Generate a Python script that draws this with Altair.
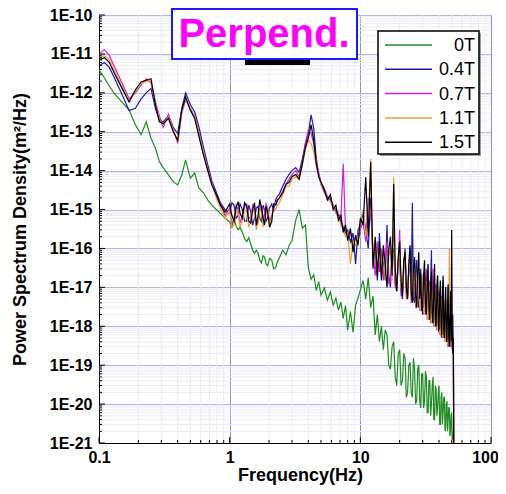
import altair as alt
import pandas as pd

# ---------------- data ----------------
FREQ = [0.1, 0.11, 0.12, 0.13, 0.15, 0.17, 0.19, 0.21, 0.23, 0.25, 0.27, 0.29, 0.31, 0.34, 0.37, 0.40, 0.43, 0.46, 0.50, 0.54, 0.58, 0.63, 0.68, 0.73, 0.79, 0.85, 0.92,
        1.0, 1.04, 1.08, 1.12, 1.16, 1.2, 1.25, 1.3, 1.35, 1.4, 1.45, 1.5, 1.55, 1.6, 1.65, 1.7, 1.75, 1.8, 1.85, 1.9, 1.95, 2.02, 2.1, 2.17, 2.25, 2.32,
        2.4, 2.55, 2.7, 2.85, 3.0, 3.2, 3.4, 3.6, 3.8, 4.0, 4.2, 4.4, 4.6, 4.8, 5.0,
        5.3, 5.6, 5.9, 6.2, 6.5, 6.8, 7.1, 7.4, 7.7, 8.0, 8.4, 8.8, 9.2, 9.6, 10,
        10.5, 11, 11.5, 12, 12.5, 13, 13.5, 14, 14.5, 15, 15.5, 16, 16.5, 17, 17.5, 18, 18.5, 19, 19.5, 20,
        20.5, 21, 21.5, 22, 22.5, 23, 23.5, 24, 24.5, 25, 25.5, 26, 26.5, 27, 27.5, 28, 28.5, 29, 29.5, 30,
        30.5, 31, 31.5, 32, 32.5, 33, 33.5, 34, 34.5, 35, 35.5, 36, 36.5, 37, 37.5, 38, 38.5, 39, 39.5, 40,
        40.5, 41, 41.5, 42, 42.5, 43, 43.5, 44, 44.5, 45, 45.5, 46, 46.5, 47, 47.5, 48, 48.5, 49, 49.5, 50,
        50.5, 51, 51.5, 52]

PSD_0T = [3.9e-12, 2.4e-12, 1.5e-12, 1e-12, 5.8e-13, 3.6e-13, 1.5e-13, 8.4e-14, 1.8e-13, 6.8e-14, 3.8e-14, 1.7e-14, 1.2e-14, 7.8e-15, 5.2e-15, 4.3e-15, 7.7e-15, 1.9e-14, 6.4e-15, 8.7e-15, 3.6e-15, 2.7e-15, 1.75e-15, 1.3e-15, 1e-15, 8e-16, 6e-16,
          4.8e-16, 3.5e-16, 6e-16, 3.8e-16, 3e-16, 3.5e-16, 2.6e-16, 1.8e-16, 1.5e-16, 1.9e-16, 1.3e-16, 9e-17, 7.5e-17, 9e-17, 7.5e-17, 5e-17, 4.2e-17, 6.5e-17, 6e-17, 4e-17, 3.6e-17, 5.5e-17, 5e-17, 3e-17, 3.2e-17, 4.5e-17,
          5.8e-17, 9e-17, 6.8e-17, 1.2e-16, 1.6e-16, 5.3e-16, 1e-15, 3.3e-16, 4e-16, 3.2e-17, 1.6e-17, 2.1e-17, 8.4e-18, 1.4e-17, 6.3e-18,
          9.6e-18, 4.7e-18, 7.6e-18, 3.5e-18, 5.3e-18, 2.6e-18, 4.2e-18, 1.6e-18, 3.4e-18, 8e-19, 2.4e-18, 7e-19, 3.5e-18, 5.3e-18, 8.5e-18,
          1.5e-17, 5e-18, 1.8e-17, 3e-18, 6e-18, 6e-19, 2e-18, 4e-19, 1e-18, 2.5e-19, 8e-19, 6e-19, 1e-19, 8e-20, 3e-19, 4e-19, 5e-20, 3e-20, 2e-19, 2.5e-19,
          3e-20, 4e-20, 2e-19, 1.5e-19, 1.5e-20, 2e-20, 1e-19, 1.2e-19, 2e-20, 1.5e-20, 1.5e-19, 8e-20, 1e-20, 1.2e-20, 8e-20, 1e-19, 1.2e-20, 8e-21, 6e-20, 6e-20,
          8e-21, 1.2e-20, 7e-20, 5e-20, 6e-21, 6e-21, 4e-20, 4e-20, 5e-21, 1e-20, 3e-20, 5e-20, 4e-21, 4e-21, 3e-20, 2.5e-20, 5e-21, 8e-21, 2e-20, 3e-20,
          3e-21, 3e-21, 1.5e-20, 2e-20, 3e-21, 6e-21, 1.5e-20, 1.5e-20, 2e-21, 2.5e-21, 1e-20, 1.2e-20, 2e-21, 4e-21, 8e-21, 8e-21, 1.5e-21, 2e-21, 5e-21, 6e-21,
          1.2e-21, 1.5e-21, 2e-21, 1e-22]

PSD_04T = [5e-12, 6e-12, 4.5e-12, 2.6e-12, 9e-13, 3.5e-13, 4e-13, 7e-13, 1e-12, 1.3e-12, 4e-13, 2e-13, 1.8e-13, 2.6e-13, 1.3e-13, 9e-14, 4e-13, 1e-12, 5e-13, 3.2e-13, 1.4e-13, 4e-14, 1.4e-14, 5.5e-15, 2.8e-15, 1.5e-15, 1e-15,
           8e-16, 1.5e-15, 1.3e-15, 6e-16, 7e-16, 1.4e-15, 1e-15, 5e-16, 5e-16, 1.3e-15, 9e-16, 4e-16, 6e-16, 1.1e-15, 1.2e-15, 6e-16, 5e-16, 1.3e-15, 1e-15, 5e-16, 6e-16, 1.1e-15, 1.4e-15, 9e-16, 1.8e-15, 2.2e-15,
           2.5e-15, 4e-15, 6e-15, 8e-15, 1e-14, 1.2e-14, 9e-15, 2e-14, 5e-14, 9e-14, 2.7e-13, 1.2e-13, 2e-14, 8e-15, 4.5e-15,
           2.8e-15, 2e-15, 1.8e-15, 1.2e-15, 9e-16, 7e-16, 5e-16, 3.5e-16, 2.5e-16, 3e-16, 1.5e-16, 2.5e-16, 4e-17, 3e-16, 4e-16,
           8e-16, 3e-16, 1e-16, 2e-15, 5e-17, 1e-16, 1.5e-17, 2.5e-16, 2e-17, 6e-17, 1.5e-17, 4e-16, 2e-17, 1e-17, 8e-17, 1e-16, 1.2e-17, 8e-18, 5e-17, 6e-17,
           8e-18, 5e-18, 3e-17, 1e-16, 7e-18, 6e-18, 3e-17, 5e-17, 6e-18, 1.5e-15, 5e-18, 4e-18, 2.5e-17, 5e-17, 4e-18, 3e-18, 2e-17, 3e-17, 3e-18, 2e-18,
           1.5e-17, 2e-17, 2e-18, 2.5e-18, 1.2e-17, 1.5e-17, 1.5e-18, 1.5e-18, 1e-17, 9e-17, 1.5e-18, 1.2e-18, 8e-18, 1.2e-17, 1e-18, 1e-18, 6e-18, 2e-17, 8e-19, 7e-19,
           5e-18, 1e-17, 6e-19, 5e-19, 4e-18, 1.5e-17, 5e-19, 6e-19, 3e-18, 5e-18, 4e-19, 4e-19, 2.5e-18, 1e-17, 3e-19, 4e-19, 2e-18, 4e-18, 3e-19, 3e-19,
           1.5e-18, 2e-18, 3e-19, 1e-22]

PSD_07T = [1e-11, 1.3e-11, 9e-12, 5e-12, 1.8e-12, 7e-13, 1e-12, 1.6e-12, 2.3e-12, 1.8e-12, 6e-13, 2.5e-13, 1.3e-13, 2.8e-13, 1.2e-13, 5e-14, 3e-13, 6.5e-13, 4e-13, 2.5e-13, 1e-13, 3e-14, 1.1e-14, 5e-15, 2.2e-15, 1.4e-15, 7e-16,
           1.1e-15, 4e-16, 6e-16, 1.3e-15, 1e-15, 4.5e-16, 7e-16, 1.2e-15, 1.4e-15, 6e-16, 6e-16, 1.3e-15, 1.1e-15, 4e-16, 5e-16, 1e-15, 1.3e-15, 5e-16, 8e-16, 1.4e-15, 1.1e-15, 5e-16, 7e-16, 1.2e-15, 1.5e-15, 1.8e-15,
           2e-15, 3e-15, 4.5e-15, 6e-15, 8e-15, 1e-14, 7e-15, 1.6e-14, 5e-14, 1.1e-13, 9e-14, 5e-14, 1.8e-14, 9e-15, 5e-15,
           3.5e-15, 2.2e-15, 2e-15, 1.3e-15, 1e-15, 8e-16, 6e-16, 1.5e-14, 3e-16, 2e-16, 2.8e-16, 1.2e-16, 2e-16, 1.5e-16, 3e-16,
           5e-16, 1.5e-16, 2e-15, 8e-16, 1e-16, 2e-17, 1.5e-16, 2.5e-17, 1e-16, 1.5e-17, 6e-17, 1.5e-16, 1.2e-17, 1.5e-17, 9e-17, 3.5e-16, 1e-17, 1e-17, 4e-17, 3e-16,
           6e-18, 8e-18, 4e-17, 8e-17, 5e-18, 6e-18, 3e-17, 1e-16, 4e-18, 5e-18, 2e-17, 5e-17, 3e-18, 4e-18, 2e-17, 3e-17, 2.5e-18, 3e-18, 1.5e-17, 2e-17,
           2e-18, 2.5e-18, 1.2e-17, 3e-17, 1.5e-18, 2e-18, 1e-17, 1.5e-17, 1.2e-18, 1.5e-18, 8e-18, 3e-17, 1e-18, 1.2e-18, 7e-18, 1.2e-17, 8e-19, 1e-18, 5e-18, 8e-18,
           6e-19, 8e-19, 4e-18, 6e-18, 5e-19, 6e-19, 3e-18, 4e-18, 4e-19, 5e-19, 2.5e-18, 3e-18, 3e-19, 4e-19, 1.5e-18, 2e-18, 3e-19, 4e-19, 1e-18, 1.5e-18,
           2.5e-19, 3e-19, 6e-19, 1e-22]

PSD_11T = [8e-12, 9e-12, 7e-12, 4e-12, 1.5e-12, 6e-13, 1.1e-12, 1.7e-12, 2e-12, 2e-12, 5.5e-13, 2e-13, 1.5e-13, 2.4e-13, 1.1e-13, 5.5e-14, 3.2e-13, 7e-13, 3.8e-13, 2.4e-13, 9e-14, 2.8e-14, 1e-14, 4.5e-15, 2e-15, 1.1e-15, 6e-16,
           9e-16, 3.5e-16, 4e-16, 9e-16, 8e-16, 3.5e-16, 5e-16, 1e-15, 9e-16, 3.5e-16, 5e-16, 1.1e-15, 8e-16, 3e-16, 4.5e-16, 1e-15, 9e-16, 3.5e-16, 5e-16, 8e-16, 1.2e-15, 4e-16, 6e-16, 1.1e-15, 1e-15, 1.3e-15,
           1.5e-15, 2.4e-15, 4e-15, 4e-15, 6e-15, 7e-15, 6e-15, 1.4e-14, 3.5e-14, 6e-14, 5e-14, 3e-14, 1.3e-14, 7e-15, 4.5e-15,
           3e-15, 1.8e-15, 1.6e-15, 1.1e-15, 8e-16, 6e-16, 4e-16, 3e-16, 2e-16, 2.5e-16, 4e-17, 1.5e-16, 1.2e-16, 2e-16, 5e-16,
           1e-15, 2e-16, 5e-16, 2e-14, 4e-17, 1.5e-16, 2.5e-17, 1e-16, 2e-17, 8e-17, 2e-17, 1.2e-17, 6e-17, 1e-16, 1.5e-17, 7e-15, 2e-17, 1e-17, 5e-17, 8e-17,
           1e-17, 7e-18, 3e-17, 5e-17, 6e-18, 5e-18, 3e-17, 7e-17, 5e-18, 4e-18, 2e-17, 4e-17, 4e-18, 3e-18, 1.5e-17, 3e-17, 3e-18, 2.5e-18, 1.2e-17, 2e-17,
           2.5e-18, 2e-18, 1e-17, 1.5e-17, 2e-18, 1.5e-18, 8e-18, 1e-17, 1.5e-18, 1.2e-18, 6e-18, 8e-18, 1.2e-18, 1e-18, 5e-18, 1e-17, 1e-18, 8e-19, 4e-18, 6e-18,
           7e-19, 6e-19, 3e-18, 5e-18, 6e-19, 5e-19, 2.5e-18, 4e-18, 5e-19, 4e-19, 2e-18, 3e-18, 4e-19, 3e-19, 1.5e-18, 1e-16, 4e-19, 5e-19, 1e-18, 2e-18,
           3e-19, 2e-19, 4e-19, 1e-22]

PSD_15T = [7e-12, 8e-12, 6e-12, 3.4e-12, 1.3e-12, 5.8e-13, 1.2e-12, 1.9e-12, 2.1e-12, 2.3e-12, 5e-13, 1.8e-13, 1.6e-13, 2.2e-13, 1e-13, 6e-14, 3.6e-13, 7.8e-13, 3.6e-13, 2.2e-13, 8e-14, 2.5e-14, 1e-14, 4.3e-15, 2.4e-15, 1.3e-15, 8.6e-16,
           1.4e-15, 7e-16, 5e-16, 1.1e-15, 1.6e-15, 8e-16, 6e-16, 1.5e-15, 1.2e-15, 5e-16, 4.5e-16, 1e-15, 1.5e-15, 4e-16, 7e-16, 1.8e-15, 1.1e-15, 6e-16, 4e-16, 1.2e-15, 9e-16, 3.5e-16, 5e-16, 1.4e-15, 1.3e-15, 1.7e-15,
           2e-15, 2.7e-15, 4.5e-15, 5e-15, 7e-15, 8e-15, 6e-15, 1.5e-14, 4e-14, 7e-14, 1.5e-13, 6e-14, 1.5e-14, 7e-15, 5e-15,
           3.2e-15, 1.75e-15, 2.4e-15, 1e-15, 1.3e-15, 5.3e-16, 7e-16, 2.6e-16, 4e-16, 1.6e-16, 3.3e-16, 8e-17, 2.2e-16, 1.2e-16, 6e-16,
           4e-16, 6.8e-15, 2e-16, 1.7e-14, 3e-17, 2e-16, 2e-17, 1.5e-16, 1.5e-17, 1.2e-16, 4e-17, 1e-17, 9e-17, 2e-16, 2e-17, 4.5e-15, 3e-17, 8e-18, 6e-17, 1.5e-16,
           1.5e-17, 6e-18, 5e-17, 8e-17, 1e-17, 5e-18, 4e-17, 1.2e-16, 8e-18, 4e-18, 3e-17, 6e-17, 6e-18, 3e-18, 2.5e-17, 8e-17, 5e-18, 2.3e-17, 2.5e-18, 3e-18,
           2e-17, 5e-17, 4e-18, 2e-18, 1.5e-17, 4e-17, 3e-18, 1.5e-18, 1.2e-17, 2.5e-17, 2e-18, 1.2e-18, 1e-17, 4e-17, 1.5e-18, 1e-18, 8e-18, 2e-17, 1.2e-18, 8e-19,
           6e-18, 1.5e-17, 1e-18, 6e-19, 5e-18, 2e-17, 8e-19, 5e-19, 4e-18, 1e-17, 6e-19, 4e-19, 3e-18, 1.2e-17, 5e-19, 3e-19, 2e-18, 8e-18, 4e-19, 3e-16,
           1e-18, 2e-19, 5e-19, 1e-22]

SERIES = ["0T", "0.4T", "0.7T", "1.1T", "1.5T"]
COLORS = ["#1e8c1e", "#1c1ca8", "#d020d0", "#e8a030", "#000000"]
VALUES = [PSD_0T, PSD_04T, PSD_07T, PSD_11T, PSD_15T]

Y_DECADES = [1e-21, 1e-20, 1e-19, 1e-18, 1e-17, 1e-16, 1e-15, 1e-14, 1e-13, 1e-12, 1e-11, 1e-10]
X_DECADES = [0.1, 1, 10, 100]
MANTISSAS = [2, 3, 4, 5, 6, 7, 8, 9]

TITLE_TEXT = "Perpend."
X_TITLE = "Frequency(Hz)"
Y_TITLE = "Power Spectrum Density(m²/Hz)"

for name, vals in zip(SERIES, VALUES):
    if len(vals) != len(FREQ):
        raise SystemExit(f"length mismatch for {name}: {len(vals)} vs {len(FREQ)}")

# ---------------- layout ----------------
W, H = 392, 428
FONT = "Liberation Sans"

xscale = alt.Scale(type="log", domain=[0.1, 100], nice=False)
yscale = alt.Scale(type="log", domain=[1e-21, 1e-10], nice=False)

xaxis = alt.Axis(values=X_DECADES, labelExpr="'' + datum.value", title=X_TITLE,
                 grid=True, gridColor="#8e8edc", gridWidth=1, ticks=False,
                 domainColor="#000000", domainWidth=1,
                 labelFont=FONT, labelFontSize=16, labelFontWeight="bold", labelColor="#000000",
                 labelPadding=6, labelFlush=False,
                 labelOffset={"condition": {"test": "datum.value == 100", "value": -6}, "value": 0},
                 titleFont=FONT, titleFontSize=18, titleFontWeight="bold", titleColor="#000000",
                 titleX=201, titleY=37, titleBaseline="alphabetic")
yaxis = alt.Axis(values=Y_DECADES, labelExpr="'1E' + round(log(datum.value)/LN10)", title=Y_TITLE,
                 grid=True, gridColor="#b4b4e8", gridWidth=1, ticks=False,
                 domainColor="#000000", domainWidth=1,
                 labelFont=FONT, labelFontSize=16, labelFontWeight="bold", labelColor="#000000",
                 labelPadding=7, labelFlush=False,
                 titleFont=FONT, titleFontSize=18, titleFontWeight="bold", titleColor="#000000",
                 titleX=-74, titleY=214, titleBaseline="alphabetic", titleAngle=270)


def X(field):
    return alt.X(field, type="quantitative", scale=xscale, axis=xaxis)


def Y(field):
    return alt.Y(field, type="quantitative", scale=yscale, axis=yaxis)


minor_x = pd.DataFrame({"gx": [m * d for d in X_DECADES[:-1] for m in MANTISSAS]})
minor_y = pd.DataFrame({"gy": [m * d for d in Y_DECADES[:-1] for m in MANTISSAS]})
major_x = pd.DataFrame({"gx": X_DECADES})
major_y = pd.DataFrame({"gy": Y_DECADES})
one = pd.DataFrame({"k": [0]})

layers = []
layers.append(alt.Chart(minor_x).mark_rule(color="#ebebf5", strokeWidth=1).encode(x=X("gx")))
layers.append(alt.Chart(minor_y).mark_rule(color="#ebebf5", strokeWidth=1).encode(y=Y("gy")))

for name, col, vals in zip(SERIES, COLORS, VALUES):
    df = pd.DataFrame({"freq": FREQ, "psd": vals, "series": name})
    layers.append(alt.Chart(df).mark_line(color=col, strokeWidth=1.2, clip=True)
                  .encode(x=X("freq"), y=Y("psd")))

# inward ticks
layers.append(alt.Chart(minor_x).mark_rule(color="#000000", strokeWidth=1)
              .encode(x=X("gx"), y=alt.value(H), y2=alt.value(H - 3)))
layers.append(alt.Chart(major_x).mark_rule(color="#000000", strokeWidth=1)
              .encode(x=X("gx"), y=alt.value(H), y2=alt.value(H - 6)))
layers.append(alt.Chart(minor_y).mark_rule(color="#000000", strokeWidth=1)
              .encode(y=Y("gy"), x=alt.value(0), x2=alt.value(3)))
layers.append(alt.Chart(major_y).mark_rule(color="#000000", strokeWidth=1)
              .encode(y=Y("gy"), x=alt.value(0), x2=alt.value(6)))

# title box
layers.append(alt.Chart(one).mark_rect(color="#000000")
              .encode(x=alt.value(146), x2=alt.value(211), y=alt.value(38), y2=alt.value(50)))
layers.append(alt.Chart(one).mark_rect(fill="#ffffff", stroke="#1a1aff", strokeWidth=2)
              .encode(x=alt.value(73), x2=alt.value(258), y=alt.value(-6), y2=alt.value(44)))
layers.append(alt.Chart(one).mark_text(font=FONT, fontSize=40, fontWeight="bold", color="#ff00ff",
                                       align="center", baseline="alphabetic")
              .encode(x=alt.value(165), y=alt.value(32), text=alt.value(TITLE_TEXT)))

# legend
layers.append(alt.Chart(one).mark_rect(fill="#9a9a9a")
              .encode(x=alt.value(281), x2=alt.value(382), y=alt.value(18), y2=alt.value(141)))
layers.append(alt.Chart(one).mark_rect(fill="#ffffff", stroke="#000000", strokeWidth=1.5)
              .encode(x=alt.value(279), x2=alt.value(380), y=alt.value(16), y2=alt.value(139)))
for i, (name, col) in enumerate(zip(SERIES, COLORS)):
    ry = 30 + i * 24.3
    layers.append(alt.Chart(one).mark_rule(color=col, strokeWidth=1.5)
                  .encode(x=alt.value(286), x2=alt.value(333), y=alt.value(ry)))
    layers.append(alt.Chart(one).mark_text(font=FONT, fontSize=18, color="#000000",
                                           align="right", baseline="middle")
                  .encode(x=alt.value(376), y=alt.value(ry + 1), text=alt.value(name)))

chart = alt.layer(*layers).properties(
    width=W, height=H,
    autosize=alt.AutoSizeParams(type="none"),
    padding={"left": 91, "top": 7, "right": 7, "bottom": 43},
    background="#ffffff",
).configure_view(stroke="transparent")

chart.save("out.html", embed_options={"renderer": "svg", "actions": False})
